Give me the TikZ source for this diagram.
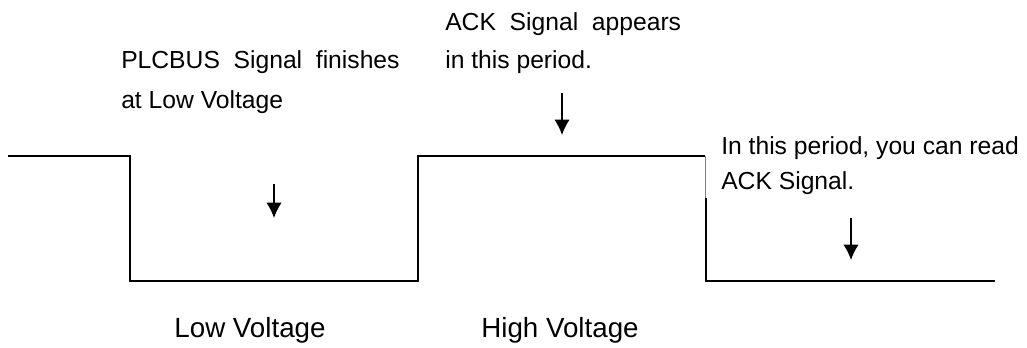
\documentclass[tikz,border=0pt]{standalone}
\usepackage{fontspec}
\setmainfont{Liberation Sans}
\usetikzlibrary{arrows.meta,positioning}

\begin{document}
\begin{tikzpicture}[
  x=0.75pt, y=-0.75pt,
  wave/.style={line width=1.5pt, line join=miter},
  note/.style={anchor=west, inner sep=0pt, font=\fontsize{18.5}{22}\selectfont},
  level/.style={inner sep=0pt, font=\fontsize{20.8}{25}\selectfont},
  arr/.style={-{Latex[length=11.5pt,width=11.5pt]}, line width=1.1pt}
]
\useasboundingbox (0,0) rectangle (1027,347);
% signal
\draw[wave] (8,156) -- (130,156) -- (130,281) -- (418,281) -- (418,156) -- (705,156);
\draw[line width=0.5pt, gray] (705,156) -- (705,198);
\draw[wave] (706,198) -- (706,281) -- (995,281);
% notes
\node[note] (plc)  at (121,62)  {PLCBUS\ \ Signal\ \ finishes};
\node[note] (plc2) at (121,102) {at Low Voltage};
\node[note] (ack)  at (445,24)  {ACK\ \ Signal\ \ appears};
\node[note] (ack2) at (445,62)  {in this period.};
\node[note] (rd)   at (721,148) {In this period, you can read};
\node[note] (rd2)  at (721,183) {ACK Signal.};
\node[level] (low)  at (250,330) {Low Voltage};
\node[level] (high) at (560,330) {High Voltage};
% arrows
\coordinate (a1s) at (274,184); \coordinate (a1e) at (274,218);
\coordinate (a2s) at (562,93);  \coordinate (a2e) at (562,135);
\coordinate (a3s) at (851,218); \coordinate (a3e) at (851,260);
\draw[arr] (a1s) -- (a1e);
\draw[arr] (a2s) -- (a2e);
\draw[arr] (a3s) -- (a3e);
\end{tikzpicture}
\end{document}
